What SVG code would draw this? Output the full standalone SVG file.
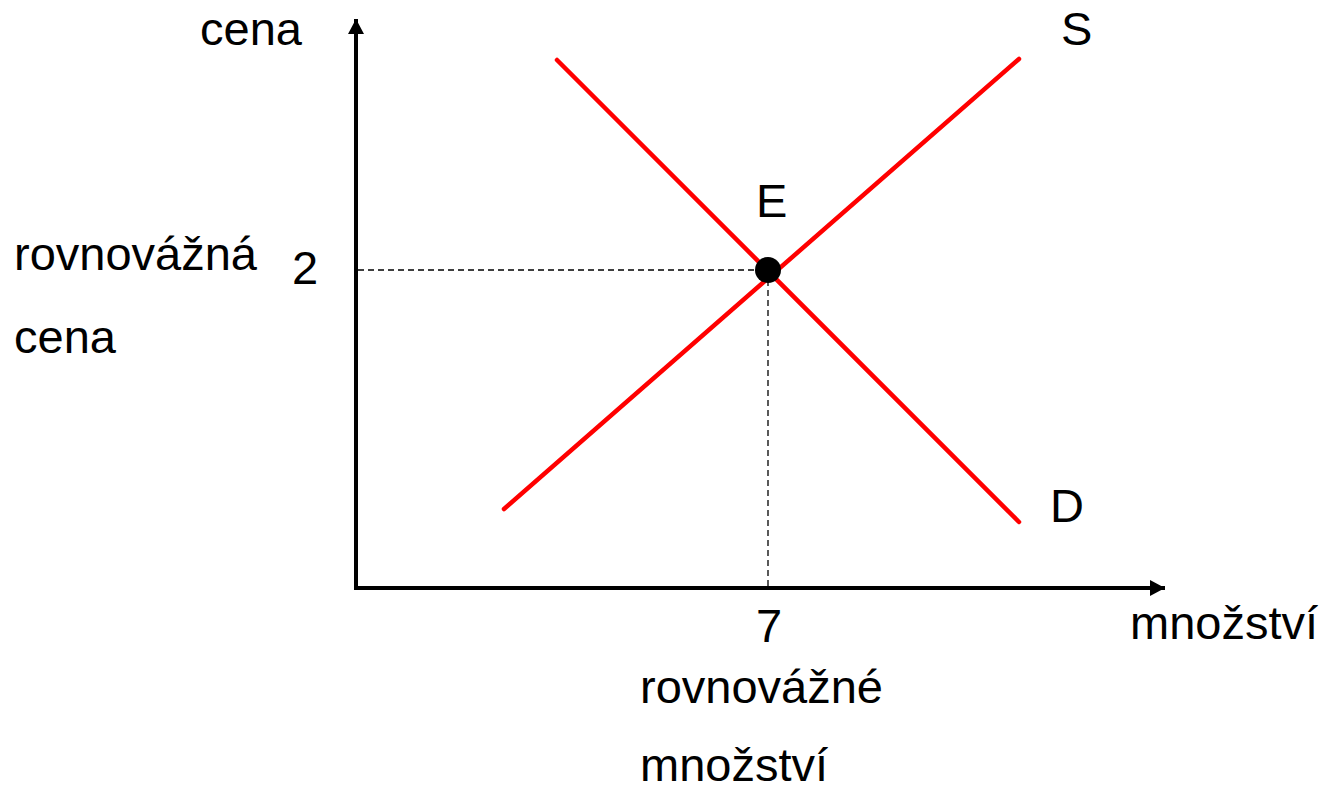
<svg xmlns="http://www.w3.org/2000/svg" width="1324" height="792" viewBox="0 0 1324 792">
<style>
text{font-family:"Liberation Sans",Arial,sans-serif;font-size:47px;fill:#000}
.axis{stroke:#000;stroke-width:4;fill:none}
.curve{stroke:#ff0000;stroke-width:4.5;stroke-linecap:round;fill:none}
.dash{stroke:#000;stroke-width:1.3;stroke-dasharray:6 4;fill:none}
</style>
<defs>
<marker id="arr" markerUnits="userSpaceOnUse" markerWidth="18" markerHeight="18" refX="15" refY="8" orient="auto">
<path d="M0,0 L15,8 L0,16 z" fill="#000"/>
</marker>
</defs>
<rect width="1324" height="792" fill="#fff"/>
<g id="connectors">
<line class="dash" x1="358" y1="270" x2="768" y2="270"/>
<line class="dash" x1="768" y1="270" x2="768" y2="587"/>
<line class="axis" x1="356" y1="590" x2="356" y2="19" marker-end="url(#arr)"/>
<line class="axis" x1="354" y1="588" x2="1165" y2="588" marker-end="url(#arr)"/>
</g>
<g id="demand"><line class="curve" x1="557" y1="60" x2="1019" y2="522"/><text x="1050" y="522">D</text></g>
<g id="supply"><line class="curve" x1="504" y1="509" x2="1019" y2="59"/><text x="1061" y="45">S</text></g>
<g id="equilibrium"><circle cx="768" cy="270" r="13" fill="#000"/><text x="756" y="217">E</text></g>
<g id="y-label"><text x="200" y="45">cena</text></g>
<g id="x-label"><text x="1130" y="639">množství</text></g>
<g id="price"><text x="292" y="284">2</text><text x="14" y="270">rovnovážná</text><text x="14" y="353">cena</text></g>
<g id="quantity"><text x="756" y="642">7</text><text x="640" y="703">rovnovážné</text><text x="640" y="781">množství</text></g>
</svg>
